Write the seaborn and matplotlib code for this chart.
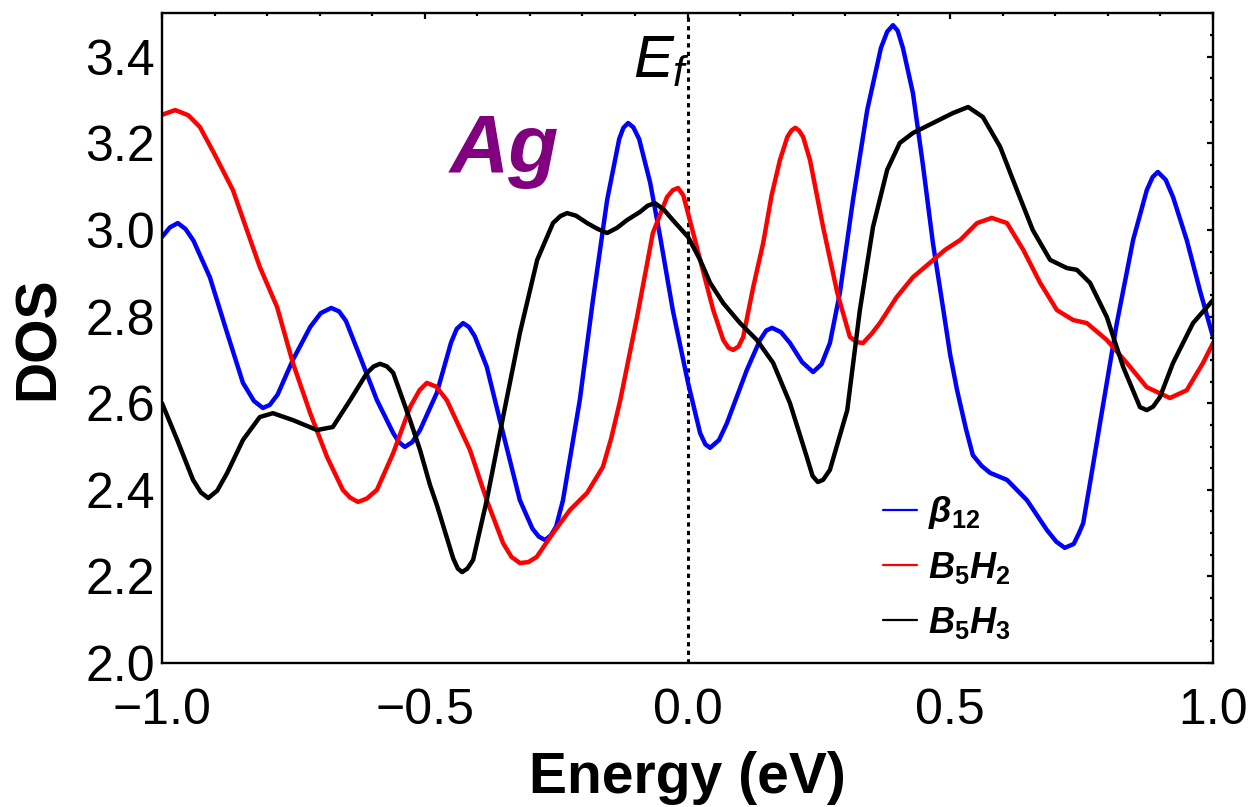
import matplotlib
matplotlib.use("Agg")
import matplotlib.pyplot as plt
from matplotlib.lines import Line2D
from matplotlib.ticker import MultipleLocator
import pandas as pd
import seaborn as sns

# Density of states around the Fermi level (Ag contact)
beta12_energy = [-1.0, -0.985, -0.970, -0.955, -0.940, -0.909, -0.876, -0.846, -0.825, -0.808,
                 -0.795, -0.780, -0.751, -0.718, -0.698, -0.678, -0.663, -0.650, -0.623, -0.591,
                 -0.560, -0.549, -0.538, -0.524, -0.509, -0.477, -0.450, -0.439, -0.427, -0.416,
                 -0.405, -0.382, -0.351, -0.319, -0.295, -0.283, -0.271, -0.260, -0.250, -0.237,
                 -0.205, -0.180, -0.153, -0.130, -0.122, -0.113, -0.103, -0.092, -0.071, -0.052,
                 -0.028, 0.001, 0.024, 0.034, 0.043, 0.060, 0.075, 0.113, 0.138, 0.150,
                 0.161, 0.178, 0.195, 0.218, 0.239, 0.255, 0.271, 0.290, 0.315, 0.342,
                 0.368, 0.380, 0.391, 0.400, 0.410, 0.429, 0.448, 0.467, 0.485, 0.500,
                 0.513, 0.530, 0.543, 0.560, 0.576, 0.608, 0.646, 0.684, 0.702, 0.718,
                 0.735, 0.745, 0.753, 0.768, 0.785, 0.817, 0.848, 0.874, 0.885, 0.895,
                 0.910, 0.924, 0.950, 0.975, 1.0]
beta12_dos = [2.984, 3.006, 3.016, 3.002, 2.975, 2.891, 2.762, 2.647, 2.605, 2.589,
              2.596, 2.620, 2.700, 2.776, 2.808, 2.820, 2.812, 2.790, 2.707, 2.607,
              2.531, 2.510, 2.499, 2.510, 2.538, 2.624, 2.740, 2.772, 2.785, 2.776,
              2.755, 2.684, 2.531, 2.376, 2.310, 2.292, 2.284, 2.295, 2.315, 2.376,
              2.607, 2.838, 3.069, 3.210, 3.236, 3.247, 3.237, 3.210, 3.109, 2.984,
              2.815, 2.647, 2.531, 2.505, 2.497, 2.515, 2.554, 2.677, 2.746, 2.768,
              2.774, 2.764, 2.739, 2.695, 2.672, 2.690, 2.739, 2.855, 3.070, 3.277,
              3.420, 3.458, 3.473, 3.460, 3.420, 3.316, 3.150, 2.970, 2.830, 2.711,
              2.630, 2.540, 2.480, 2.455, 2.439, 2.423, 2.376, 2.307, 2.280, 2.266,
              2.275, 2.300, 2.323, 2.430, 2.554, 2.785, 2.977, 3.092, 3.122, 3.134,
              3.116, 3.076, 2.977, 2.861, 2.753]

b5h2_energy = [-1.0, -0.975, -0.950, -0.928, -0.900, -0.865, -0.840, -0.814, -0.781, -0.751,
               -0.718, -0.686, -0.656, -0.642, -0.627, -0.610, -0.591, -0.560, -0.528, -0.510,
               -0.496, -0.478, -0.458, -0.414, -0.382, -0.351, -0.335, -0.319, -0.303, -0.287,
               -0.256, -0.224, -0.191, -0.161, -0.145, -0.128, -0.096, -0.066, -0.039, -0.028,
               -0.018, -0.008, 0.001, 0.024, 0.049, 0.068, 0.078, 0.087, 0.097, 0.106,
               0.125, 0.144, 0.160, 0.176, 0.190, 0.198, 0.205, 0.212, 0.220, 0.233,
               0.258, 0.285, 0.309, 0.322, 0.334, 0.350, 0.366, 0.398, 0.429, 0.461,
               0.490, 0.519, 0.551, 0.579, 0.608, 0.639, 0.671, 0.703, 0.734, 0.760,
               0.798, 0.836, 0.874, 0.918, 0.950, 0.981, 1.0]
b5h2_dos = [3.266, 3.277, 3.265, 3.238, 3.175, 3.092, 3.005, 2.915, 2.822, 2.693,
            2.577, 2.476, 2.400, 2.382, 2.372, 2.380, 2.400, 2.485, 2.591, 2.630,
            2.647, 2.638, 2.607, 2.492, 2.376, 2.277, 2.245, 2.231, 2.233, 2.245,
            2.300, 2.353, 2.393, 2.453, 2.520, 2.607, 2.799, 2.993, 3.076, 3.092,
            3.097, 3.080, 3.039, 2.931, 2.815, 2.746, 2.728, 2.723, 2.731, 2.753,
            2.868, 2.970, 3.080, 3.162, 3.215, 3.230, 3.236, 3.230, 3.215, 3.162,
            3.007, 2.855, 2.753, 2.741, 2.739, 2.760, 2.785, 2.845, 2.891, 2.924,
            2.954, 2.977, 3.016, 3.028, 3.016, 2.954, 2.878, 2.815, 2.792, 2.785,
            2.746, 2.693, 2.637, 2.612, 2.630, 2.693, 2.739]

b5h3_energy = [-1.0, -0.971, -0.941, -0.926, -0.912, -0.895, -0.876, -0.846, -0.814, -0.789,
               -0.751, -0.705, -0.675, -0.642, -0.610, -0.597, -0.585, -0.572, -0.560, -0.528,
               -0.509, -0.490, -0.477, -0.446, -0.437, -0.429, -0.419, -0.408, -0.382, -0.351,
               -0.319, -0.286, -0.256, -0.242, -0.229, -0.212, -0.191, -0.172, -0.153, -0.134,
               -0.115, -0.090, -0.076, -0.062, -0.045, -0.028, 0.001, 0.024, 0.043, 0.068,
               0.100, 0.132, 0.163, 0.195, 0.227, 0.238, 0.248, 0.258, 0.271, 0.304,
               0.328, 0.353, 0.380, 0.404, 0.429, 0.467, 0.505, 0.534, 0.562, 0.595,
               0.627, 0.657, 0.690, 0.722, 0.741, 0.766, 0.798, 0.829, 0.861, 0.874,
               0.886, 0.899, 0.924, 0.962, 1.0]
b5h3_dos = [2.600, 2.515, 2.423, 2.394, 2.381, 2.398, 2.439, 2.515, 2.568, 2.577,
            2.561, 2.538, 2.545, 2.607, 2.670, 2.685, 2.691, 2.685, 2.670, 2.561,
            2.492, 2.411, 2.365, 2.242, 2.218, 2.210, 2.218, 2.238, 2.376, 2.568,
            2.762, 2.931, 3.016, 3.032, 3.039, 3.033, 3.016, 3.003, 2.993, 3.005,
            3.023, 3.042, 3.056, 3.062, 3.047, 3.023, 2.984, 2.931, 2.878, 2.831,
            2.785, 2.746, 2.693, 2.600, 2.476, 2.432, 2.418, 2.423, 2.446, 2.584,
            2.815, 3.007, 3.139, 3.201, 3.224, 3.247, 3.270, 3.284, 3.261, 3.192,
            3.092, 3.000, 2.931, 2.912, 2.908, 2.878, 2.799, 2.684, 2.591, 2.584,
            2.592, 2.614, 2.693, 2.785, 2.838]

series_names = ["beta12", "B5H2", "B5H3"]
series_labels = [r"$\mathbfit{\beta}_{\mathbf{12}}$",
                 r"$\mathbfit{B}_{\mathbf{5}}\mathbfit{H}_{\mathbf{2}}$",
                 r"$\mathbfit{B}_{\mathbf{5}}\mathbfit{H}_{\mathbf{3}}$"]
series_colors = ["#0000FF", "#FF0000", "#000000"]

df = pd.concat([
    pd.DataFrame({"Energy": beta12_energy, "DOS": beta12_dos, "system": "beta12"}),
    pd.DataFrame({"Energy": b5h2_energy, "DOS": b5h2_dos, "system": "B5H2"}),
    pd.DataFrame({"Energy": b5h3_energy, "DOS": b5h3_dos, "system": "B5H3"}),
], ignore_index=True)

sns.set_theme(style="white")
plt.rcParams["font.family"] = ["Liberation Sans", "DejaVu Sans"]
plt.rcParams["mathtext.fontset"] = "custom"
plt.rcParams["mathtext.rm"] = "Liberation Sans"
plt.rcParams["mathtext.it"] = "Liberation Sans:italic"
plt.rcParams["mathtext.bf"] = "Liberation Sans:bold"
plt.rcParams["mathtext.bfit"] = "Liberation Sans:italic:bold"
plt.rcParams["axes.unicode_minus"] = True
for key in ["text.color", "axes.labelcolor", "xtick.color", "ytick.color", "axes.edgecolor"]:
    plt.rcParams[key] = "black"

fig = plt.figure(figsize=(12.54, 8.07), dpi=100)
ax = fig.add_axes([0.1292, 0.1784, 0.9673 - 0.1292, 0.9833 - 0.1784])

sns.lineplot(data=df, x="Energy", y="DOS", hue="system", hue_order=series_names,
             palette=dict(zip(series_names, series_colors)), estimator=None,
             sort=False, linewidth=3.2, legend=False, ax=ax,
             solid_joinstyle="round", solid_capstyle="round")

# Fermi level marker
ax.axvline(0.0, color="black", linewidth=2.2, linestyle=(0, (1.4, 1.4)), zorder=1)
ax.text(-0.104, 3.352, r"$E_f$", fontsize=43, color="black", va="baseline", ha="left")
ax.text(-0.452, 3.134, "Ag", fontsize=59, fontweight="bold", fontstyle="italic",
        color="#800080", va="baseline", ha="left")

ax.set_xlim(-1.0, 1.0)
ax.set_ylim(2.0, 3.5)
ax.xaxis.set_major_locator(MultipleLocator(0.5))
ax.xaxis.set_minor_locator(MultipleLocator(0.1))
ax.yaxis.set_major_locator(MultipleLocator(0.2))
ax.yaxis.set_minor_locator(MultipleLocator(0.05))
ax.tick_params(which="both", direction="in", top=True, right=True, width=1.6, color="black")
ax.tick_params(which="major", length=4.0, labelsize=36)
ax.tick_params(which="minor", length=2.4)
ax.tick_params(axis="x", which="major", pad=18)
ax.tick_params(axis="y", which="major", pad=5)
for spine in ax.spines.values():
    spine.set_linewidth(1.7)
    spine.set_color("black")

ax.set_xlabel("Energy (eV)", fontsize=41, fontweight="bold", labelpad=12)
ax.set_ylabel("DOS", fontsize=41, fontweight="bold", labelpad=14)

handles = [Line2D([0], [0], color=c, linewidth=1.6) for c in series_colors]
ax.legend(handles, series_labels, loc="upper left", bbox_to_anchor=(0.686, 0.260),
          frameon=False, fontsize=26, handlelength=0.95, handletextpad=0.3,
          labelspacing=0.52, borderpad=0, borderaxespad=0)

fig.savefig("out.png", dpi=100)
